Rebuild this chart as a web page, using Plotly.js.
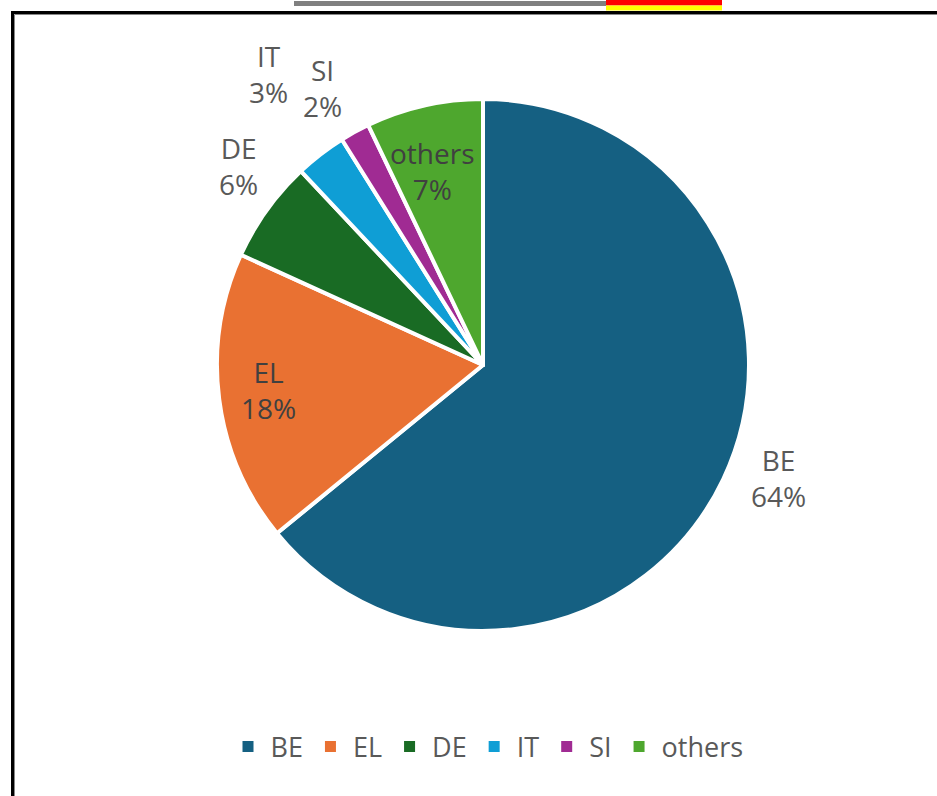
<!DOCTYPE html>
<html>
<head>
<meta charset="utf-8">
<script src="https://cdn.plot.ly/plotly-3.0.1.min.js"></script>
<style>
  html, body { margin: 0; padding: 0; background: #fff; }
  #chart { width: 937px; height: 796px; }
</style>
</head>
<body>
<div id="chart"></div>
<script>
// ---- data ----
var categories = ["BE", "EL", "DE", "IT", "SI", "others"];
var shares = [64.1, 17.7, 6.2, 3.1, 1.8, 7.1];

// ---- style ----
var colors = ["#156082", "#E97132", "#196B24", "#0F9ED5", "#A02B93", "#4EA72E"];
// label centre positions (pixels), and whether label sits on the slice
var labelPx = [[778, 478], [268, 390], [238, 166], [268, 74], [322, 88], [432, 171]];
var labelInside = [false, true, false, false, false, true];

var W = 937, H = 796;
var FONT = "Open Sans, Liberation Sans, Arial, sans-serif";

var cx = 483, cyTop = 365, R = 266;
var dom = {
  x: [(cx - R) / W, (cx + R) / W],
  y: [(H - cyTop - R) / H, (H - cyTop + R) / H]
};

var total = shares.reduce(function (a, b) { return a + b; }, 0);

var pie = {
  type: "pie",
  labels: categories,
  values: shares,
  sort: false,
  direction: "clockwise",
  rotation: 0,
  textinfo: "none",
  hoverinfo: "label+percent",
  showlegend: false,
  marker: { colors: colors, line: { color: "#ffffff", width: 4 } },
  domain: dom
};

// legend entries (square swatches without the white slice border)
var legendTraces = categories.map(function (c, i) {
  return {
    type: "scatter", mode: "markers",
    x: [null], y: [null],
    name: c,
    marker: { symbol: "square", size: 11, color: colors[i], line: { width: 0 } },
    showlegend: true, hoverinfo: "skip"
  };
});

var annotations = categories.map(function (c, i) {
  var pct = Math.round(shares[i] / total * 100) + "%";
  return {
    xref: "paper", yref: "paper",
    x: labelPx[i][0] / W, y: 1 - labelPx[i][1] / H,
    xanchor: "center", yanchor: "middle",
    text: c + "<br>" + pct,
    showarrow: false,
    font: { family: FONT, size: 28, color: labelInside[i] ? "#404040" : "#595959" }
  };
});

function px(x) { return x / W; }
function py(y) { return 1 - y / H; }

var shapes = [
  // frame (left + top)
  { type: "line", xref: "paper", yref: "paper", x0: px(12.5), y0: py(796), x1: px(12.5), y1: py(11), line: { color: "#000", width: 3 } },
  { type: "line", xref: "paper", yref: "paper", x0: px(11), y0: py(12.5), x1: px(937), y1: py(12.5), line: { color: "#000", width: 3 } },
  { type: "line", xref: "paper", yref: "paper", x0: px(14.5), y0: py(796), x1: px(14.5), y1: py(14.5), line: { color: "#888", width: 1 } },
  { type: "line", xref: "paper", yref: "paper", x0: px(14.5), y0: py(14.5), x1: px(937), y1: py(14.5), line: { color: "#888", width: 1 } },
  // top decorations
  { type: "rect", xref: "paper", yref: "paper", x0: px(294), y0: py(6), x1: px(606), y1: py(1), fillcolor: "#808080", line: { width: 0 } },
  { type: "rect", xref: "paper", yref: "paper", x0: px(606), y0: py(5.5), x1: px(722), y1: py(0), fillcolor: "#ff0000", line: { width: 0 } },
  { type: "rect", xref: "paper", yref: "paper", x0: px(606), y0: py(10.5), x1: px(722), y1: py(5.5), fillcolor: "#ffff00", line: { width: 0 } }
];

var layout = {
  width: W, height: H,
  margin: { l: 0, r: 0, t: 0, b: 0 },
  paper_bgcolor: "#ffffff",
  plot_bgcolor: "rgba(0,0,0,0)",
  xaxis: { visible: false, showgrid: false, zeroline: false },
  yaxis: { visible: false, showgrid: false, zeroline: false },
  showlegend: true,
  legend: {
    orientation: "h",
    x: 487 / W, xanchor: "center",
    y: 1 - 747 / H, yanchor: "middle",
    font: { family: FONT, size: 27, color: "#595959" },
    traceorder: "normal",
    itemwidth: 35,
    itemclick: false
  },
  annotations: annotations,
  shapes: shapes
};

Plotly.newPlot("chart", [pie].concat(legendTraces), layout, { displayModeBar: false, staticPlot: true });
</script>
</body>
</html>
